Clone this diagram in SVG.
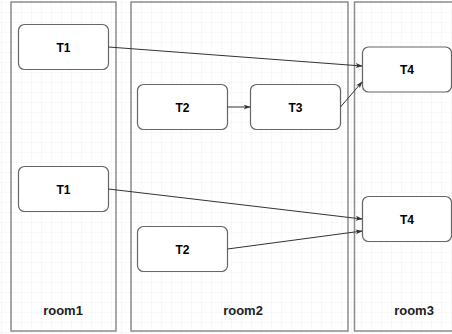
<svg xmlns="http://www.w3.org/2000/svg" width="452" height="334" viewBox="0 0 452 334">
  <defs>
    <pattern id="grid" width="10" height="10" patternUnits="userSpaceOnUse" x="1" y="2">
      <path d="M10 0H0V10" fill="none" stroke="#f2f2f2" stroke-width="1"/>
    </pattern>
    <marker id="arrow" viewBox="0 0 10 10" refX="9" refY="5" markerWidth="7" markerHeight="7" orient="auto" markerUnits="userSpaceOnUse">
      <path d="M0 1.5L10 5L0 8.5L2.5 5Z" fill="#333"/>
    </marker>
    <style>
      .room { fill: none; stroke: #8c8c8c; stroke-width: 1.5; }
      .task { fill: #ffffff; stroke: #666666; stroke-width: 1.2; }
      .label { font-family: "Liberation Sans", Arial, sans-serif; font-weight: bold; font-size: 12px; fill: #000; text-anchor: middle; }
      .rlabel { font-family: "Liberation Sans", Arial, sans-serif; font-weight: bold; font-size: 13px; fill: #222; text-anchor: middle; }
      .edge { fill: none; stroke: #333; stroke-width: 1; marker-end: url(#arrow); }
    </style>
  </defs>

  <rect width="452" height="334" fill="#ffffff"/>
  <rect width="452" height="334" fill="url(#grid)"/>

  <!-- swimlanes -->
  <g id="room1">
    <rect class="room" x="11" y="2" width="105" height="329"/>
    <text class="rlabel" x="63" y="315">room1</text>
  </g>
  <g id="room2">
    <rect class="room" x="131" y="2" width="217" height="329"/>
    <text class="rlabel" x="243" y="315">room2</text>
  </g>
  <g id="room3">
    <rect class="room" x="354.5" y="2" width="110" height="329"/>
    <text class="rlabel" x="414" y="315">room3</text>
  </g>

  <!-- tasks -->
  <g id="t1-top">
    <rect class="task" x="18.5" y="24.5" width="90" height="45" rx="6"/>
    <text class="label" x="63.5" y="51.5">T1</text>
  </g>
  <g id="t2-top">
    <rect class="task" x="137.5" y="84.5" width="90" height="45" rx="6"/>
    <text class="label" x="182.5" y="111.5">T2</text>
  </g>
  <g id="t3">
    <rect class="task" x="250.5" y="84.5" width="90" height="45" rx="6"/>
    <text class="label" x="295.5" y="111.5">T3</text>
  </g>
  <g id="t4-top">
    <rect class="task" x="362.5" y="47" width="89" height="45" rx="6"/>
    <text class="label" x="407" y="74">T4</text>
  </g>
  <g id="t1-bottom">
    <rect class="task" x="18.5" y="166.5" width="90" height="45" rx="6"/>
    <text class="label" x="63.5" y="193.5">T1</text>
  </g>
  <g id="t2-bottom">
    <rect class="task" x="137.5" y="226.5" width="90" height="45" rx="6"/>
    <text class="label" x="182.5" y="253.5">T2</text>
  </g>
  <g id="t4-bottom">
    <rect class="task" x="362.5" y="196.5" width="89" height="45" rx="6"/>
    <text class="label" x="407" y="223.5">T4</text>
  </g>

  <!-- connectors -->
  <g id="edges">
    <line class="edge" x1="108.5" y1="47" x2="362" y2="66"/>
    <line class="edge" x1="227.5" y1="107" x2="250" y2="107"/>
    <line class="edge" x1="340.5" y1="107" x2="362" y2="82"/>
    <line class="edge" x1="108.5" y1="189" x2="362" y2="219"/>
    <line class="edge" x1="227.5" y1="249" x2="362" y2="231"/>
  </g>
</svg>
